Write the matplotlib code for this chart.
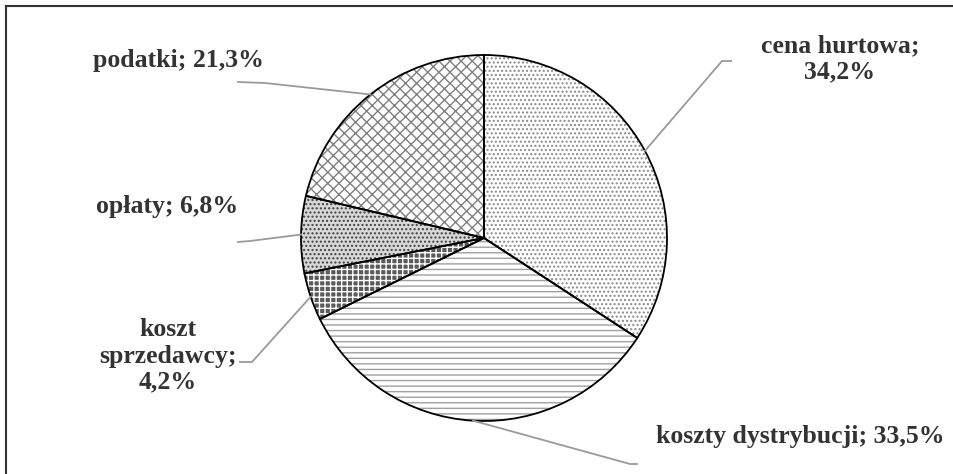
import numpy as np
import matplotlib.pyplot as plt

labels = ["cena hurtowa", "koszty dystrybucji", "koszt\nsprzedawcy", "opłaty", "podatki"]
values = [34.2, 33.5, 4.2, 6.8, 21.3]
label_texts = ["cena hurtowa;\n34,2%", "koszty dystrybucji; 33,5%",
               "koszt\nsprzedawcy;\n4,2%", "opłaty; 6,8%", "podatki; 21,3%"]

hatches = ["....", "---", "+++", "....", "xxx"]
faces = ["white", "white", "#5a5a5a", "#d8d8d8", "white"]
hatch_cols = ["#8a8a8a", "#a0a0a0", "white", "#404040", "#808080"]

# label placement (pixels, top-left origin)
text_pos = [(840, 59, "center"), (656, 437, "left"), (168, 356, "center"),
            (167, 207, "center"), (178, 60, "center")]
bends = [[(722, 61), (731, 61)], [(630, 464), (637, 464)], [(252, 362), (240, 362)],
         [(250, 241), (238, 242)], [(265, 83), (238, 82)]]

cx, cy, r = 484, 238, 183

fig = plt.figure(figsize=(9.54, 4.74), dpi=100)
ax = fig.add_axes([0, 0, 1, 1])

plt.rcParams["hatch.linewidth"] = 1.0
w1, _ = ax.pie(values, center=(cx, cy), radius=r, startangle=-90, counterclock=True,
               colors=faces, wedgeprops=dict(linewidth=0), frame=True)
for w, h, hc in zip(w1, hatches, hatch_cols):
    w.set_hatch(h)
    w.set_edgecolor(hc)
w2, _ = ax.pie(values, center=(cx, cy), radius=r, startangle=-90, counterclock=True,
               wedgeprops=dict(facecolor="none", edgecolor="black", linewidth=1.3), frame=True)
ax.set_xlim(0, 954)
ax.set_ylim(474, 0)
ax.set_aspect("equal")
ax.axis("off")

for w, txt, (tx, ty, ha), b in zip(w1, label_texts, text_pos, bends):
    mid = np.deg2rad((w.theta1 + w.theta2) / 2)
    sx, sy = cx + r * np.cos(mid), cy + r * np.sin(mid)
    xs = [sx] + [p[0] for p in b]
    ys = [sy] + [p[1] for p in b]
    ax.plot(xs, ys, color="#9a9a9a", lw=1.3, zorder=5)
    ax.text(tx, ty, txt, ha=ha, va="center", fontsize=18.5, fontweight="bold",
            family="Liberation Serif", color="#333333", linespacing=1.18)

# outer frame (left and top edges only)
ax.plot([6, 6], [474, 6], color="#333333", lw=1.5)
ax.plot([6, 954], [6, 6], color="#333333", lw=1.5)

fig.savefig("out.png", dpi=100)
